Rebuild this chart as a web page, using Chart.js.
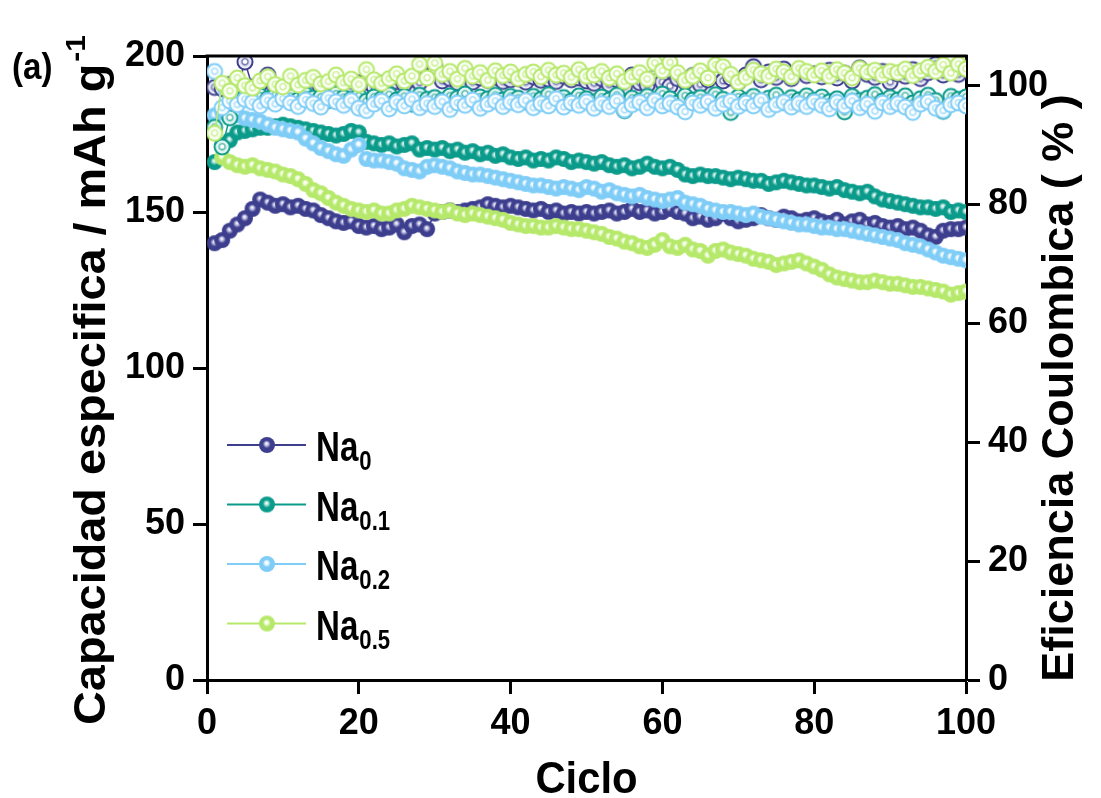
<!DOCTYPE html>
<html>
<head>
<meta charset="utf-8">
<script src="https://cdn.jsdelivr.net/npm/chart.js@4.4.1/dist/chart.umd.min.js"></script>
<style>
  html, body { margin: 0; padding: 0; background: #fff; }
  #wrap { width: 1101px; height: 798px; }
</style>
</head>
<body>
<div id="wrap"><canvas id="chart" width="1101" height="798"></canvas></div>
<script>
// cycle numbers
const cycles = [];
for (let i = 1; i <= 100; i++) cycles.push(i);

const names = ['Na0', 'Na0.1', 'Na0.2', 'Na0.5'];
const colors = ['#3d3f8e', '#0b9b8b', '#7fcdf7', '#b6e96b'];
const lights = ['#c9c9ea', '#bfe9e2', '#f2fbff', '#f4ffe6'];

const cycleTicks = [0, 20, 40, 60, 80, 100];
const capTicks = [0, 50, 100, 150, 200];
const effTicks = [0, 20, 40, 60, 80, 100];

// specific capacity, mAh g-1
const capNa0 = [
  140, 141, 144, 146, 148, 151, 154, 153, 152, 152.5,
  151.5, 152, 151, 150.5, 149, 148, 147, 146.5, 147, 145.5,
  145, 145.5, 144.5, 145, 146, 143.5, 145.5, 146, 144.5, 149.5,
  150, 150.5, 150, 150.5, 151, 151.5, 152.5, 152, 151.5, 152,
  151.5, 151, 150.5, 151, 150, 150.5, 149.5, 150, 149.5, 150,
  149.5, 150, 150.5, 149.5, 150, 151, 150, 150.5, 149.5, 150,
  151, 150, 149.5, 148, 148.5, 147.5, 148, 149.5, 148, 147,
  147.5, 148, 149, 148, 147.5, 148.5, 148, 147, 147.5, 148,
  147, 146.5, 147.5, 146, 147, 147.5, 146, 146.5, 145.5, 145,
  145.5, 144.5, 145, 144, 142.5, 142, 144, 144.5, 144.5, 145
];
const capNa01 = [
  166, 171.5, 173, 175.5, 176, 176.5, 177, 177, 177.5, 178,
  177.5, 177, 176.5, 176, 175.5, 175, 174.5, 175, 176, 175.5,
  172.5, 172, 171.5, 172, 171, 171.5, 172, 170, 170.5, 170,
  170.5, 169.5, 170, 169, 169.5, 168.5, 169, 168, 168.5, 167.5,
  167, 167.5, 166.5, 167, 166.5, 167.5, 167, 166, 166.5, 166,
  165.5, 166, 165, 164.5, 165, 164, 164.5, 165.5, 164.5, 164,
  164.5, 163.5, 162, 161.5, 162, 161.5, 161.5, 161, 160.5, 161,
  160.5, 160, 160, 159, 159.5, 160, 159.5, 159, 158.5, 158.5,
  158, 157.5, 158, 157, 156.5, 156, 156.5, 155, 154, 153.5,
  153, 152.5, 152, 151.5, 151.5, 151, 151.5, 150, 150.5, 150
];
const capNa02 = [
  181, 182, 180.5, 181, 180, 179.5, 179, 178, 177, 176.5,
  176, 175.5, 173.5, 172, 170.5, 169.5, 168.5, 168, 170, 171.5,
  167, 166.5, 166.5, 166, 165.5, 164, 163.5, 163, 164.5, 165,
  164.5, 164, 163, 162.5, 162, 162, 161.5, 161, 160.5, 160,
  159.5, 159, 158.5, 158.5, 158, 157.5, 158, 157.5, 157, 158,
  157.5, 156.5, 157, 156, 155.5, 155, 155.5, 154.5, 154, 153.5,
  154, 154.5, 153, 152.5, 152, 151, 150.5, 150, 150, 149.5,
  149, 149.5, 148.5, 148, 147.5, 147, 146.5, 146, 146, 145.5,
  145, 145, 144.5, 144.5, 144, 143.5, 143, 142.5, 142, 141.5,
  141, 140, 139.5, 139, 138, 137, 136, 135.5, 135, 134.5
];
const capNa05 = [
  176, 167.5, 166, 165, 164.5, 165, 164, 163.5, 163, 162,
  161.5, 160.5, 159, 157, 156, 154.5, 153, 152, 151, 150.5,
  150, 150.5, 149.5, 149.5, 150.5, 151, 152, 151.5, 151, 150.5,
  150, 150.5, 149.5, 149, 149.5, 149, 148.5, 148, 147.5, 146.5,
  146, 145.5, 145.5, 145, 145, 145.5, 145, 144.5, 144.5, 144,
  143.5, 143, 142, 141.5, 140.5, 140, 139, 138.5, 139.5, 141,
  139, 138.5, 139.5, 138, 137.5, 136, 137.5, 138, 137, 136.5,
  136, 135, 134.5, 134, 133, 133.5, 134, 134.5, 133.5, 132.5,
  131.5, 130, 129, 128.5, 128, 127.5, 127.5, 128, 127.5, 127,
  127, 126.5, 126, 126, 125.5, 125, 124.5, 123.5, 124, 124.5
];

// coulombic efficiency, %
const effNa0 = [
  99.7, 99.5, 100.2, 99.4, 104, 99.8, 100.3, 101.8, 99.6, 99.5,
  100.1, 99.7, 99.4, 100, 99.6, 99.8, 99.5, 100.2, 99.9, 100.5,
  100.6, 99.8, 100.4, 100, 100.7, 100.2, 101.1, 100.5, 101.5, 103.2,
  100.8, 101.2, 100.5, 101, 100.6, 101.3, 100.9, 101.4, 100.7, 101,
  101.2, 100.6, 101.5, 100.9, 101.1, 100.7, 101.6, 101, 101.3, 100.8,
  100.4, 101.2, 100.2, 101, 99.8, 101.8, 100.5, 100.1, 101.4, 100.6,
  99.9, 101.2, 100.6, 101.7, 100.2, 101, 102, 100.8, 101.3, 100.6,
  101.8, 103.2, 101, 102.3, 101.4, 102.8, 101.2, 102.5, 101.7, 102,
  101.5, 102.6, 101.3, 102.1, 100.8, 103, 101.9, 101.4, 102.4, 100.6,
  102, 101.6, 102.7, 101.2, 102.2, 103.6, 101.8, 102.5, 101.9, 102.8
];
const effNa01 = [
  93, 89.7, 94.6, 97.4, 98.0, 97.6, 98.3, 97.8, 98.4, 97.9,
  98.2, 97.6, 98.5, 97.9, 98.1, 97.5, 98.6, 98.0, 97.7, 98.3,
  97.4, 98.1, 97.8, 98.5, 97.6, 98.2, 96.9, 98.4, 97.7, 98.0,
  97.5, 98.3, 97.9, 98.6, 97.4, 98.1, 97.8, 98.4, 97.6, 98.2,
  97.9, 97.3, 98.2, 97.7, 98.5, 97.5, 98.0, 97.4, 98.3, 97.8,
  97.2, 98.1, 97.6, 98.4, 95.8, 97.9, 97.4, 98.2, 97.5, 98.6,
  97.8, 97.1, 98.3, 97.6, 98.0, 97.3, 98.5, 97.7, 95.5, 98.1,
  97.5, 98.2, 97.4, 97.9, 98.4, 97.2, 98.0, 97.6, 98.3, 97.5,
  98.1, 97.3, 97.8, 95.6, 98.2, 97.5, 97.9, 98.5, 97.4, 98.0,
  97.6, 98.3, 97.1, 97.8, 98.4, 97.5, 95.7, 98.2, 97.7, 98.1
];
const effNa02 = [
  102.4, 96.3, 97.4, 96.8, 97.7, 97.2, 96.6, 97.5, 96.9, 97.8,
  97.1, 96.5, 97.6, 97.0, 96.4, 97.9, 97.3, 96.7, 97.5, 96.2,
  95.8, 96.9, 97.4, 96.1, 97.2, 96.6, 97.7, 96.3, 97.0, 96.5,
  97.3, 96.0, 97.1, 96.7, 97.6, 96.2, 96.9, 97.4, 96.5, 97.2,
  96.8, 97.5, 96.3, 97.0, 96.6, 97.8, 96.4, 97.1, 96.7, 97.3,
  96.2, 97.0, 96.5, 97.4, 95.9, 96.8, 97.2, 96.3, 97.5, 96.6,
  97.0, 96.4, 95.6, 97.1, 96.7, 97.3, 96.2, 96.9, 97.4, 96.5,
  97.1, 96.6, 97.5, 96.0, 96.8, 97.2, 96.4, 97.0, 96.5, 97.3,
  96.7, 96.1, 97.2, 96.6, 97.4, 96.3, 96.9, 95.7, 97.1, 96.5,
  97.0, 96.4, 95.5, 96.9, 97.3, 96.2, 95.8, 96.8, 97.1, 96.6
];
const effNa05 = [
  92, 100.4, 99.1, 101.3, 100, 99.6, 100.8, 101.5, 100.2, 99.8,
  101.6, 100.1, 100.9, 101.4, 100.3, 100.7, 101.8, 100.5, 101.1, 100.2,
  102.7, 101, 100.4, 101.2, 102, 100.8, 101.6, 103.6, 101.3, 103.8,
  101.9, 102.4, 101.1, 102.9, 101.6, 102.2, 100.9, 102.5, 101.7, 102.3,
  101.2, 101.9, 102.3, 101.5, 102.6, 101.8, 102.1, 101.4, 102.7, 101.6,
  101.8, 102.4, 101.3, 102, 100.7, 101.5, 102.2, 101.1, 103.8, 102.5,
  103.9, 102.2, 100.9, 101.6, 102.5, 101.3, 103.5, 103.2, 101.9, 100.6,
  101.4, 102.6, 102, 101.6, 102.8, 102.3, 101.5, 102.9, 102.4, 101.8,
  102.5, 101.6, 102.7, 102.1, 101.3, 102.9, 102.3, 102.6, 101.8, 102.4,
  102.2, 102.8, 101.7, 102.5, 103.1, 102.4, 103.5, 102.1, 103.6, 102.8
];

const capacity = [capNa0, capNa01, capNa02, capNa05];
const efficiency = [effNa0, effNa01, effNa02, effNa05];

// shaded ball marker for capacity points
function sphere(base, light) {
  const r = 8, c = document.createElement('canvas');
  c.width = c.height = 2 * r + 2;
  const g = c.getContext('2d'), cx = r + 1, cy = r + 1;
  const grad = g.createRadialGradient(cx - 0.5, cy - 1.5, 0, cx, cy, r);
  grad.addColorStop(0, '#ffffff');
  grad.addColorStop(0.2, light);
  grad.addColorStop(0.5, base);
  grad.addColorStop(1, base);
  g.fillStyle = grad;
  g.beginPath(); g.arc(cx, cy, r, 0, Math.PI * 2); g.fill();
  return c;
}

// hollow ring marker for efficiency points
function ring(base, light) {
  const r = 7.5, c = document.createElement('canvas');
  c.width = c.height = 20;
  const g = c.getContext('2d'), cx = 10, cy = 10;
  g.fillStyle = '#ffffff';
  g.beginPath(); g.arc(cx, cy, r, 0, Math.PI * 2); g.fill();
  const grad = g.createRadialGradient(cx, cy - 0.5, 0, cx, cy, r - 1);
  grad.addColorStop(0, '#ffffff');
  grad.addColorStop(0.25, '#ffffff');
  grad.addColorStop(0.45, base);
  grad.addColorStop(0.65, light);
  grad.addColorStop(1, '#ffffff');
  g.globalAlpha = 0.75;
  g.fillStyle = grad;
  g.beginPath(); g.arc(cx, cy, r - 1, 0, Math.PI * 2); g.fill();
  g.globalAlpha = 1;
  g.strokeStyle = base; g.lineWidth = 2;
  g.beginPath(); g.arc(cx, cy, r, 0, Math.PI * 2); g.stroke();
  return c;
}

const balls = colors.map((c, i) => sphere(c, lights[i]));
const rings = colors.map((c, i) => ring(c, lights[i]));

const datasets = [];
capacity.forEach((vals, i) => {
  datasets.push({
    label: names[i],
    data: vals.map((v, k) => ({ x: cycles[k], y: v })),
    yAxisID: 'y',
    borderColor: colors[i],
    borderWidth: 1.5,
    pointStyle: balls[i],
    pointRadius: 8,
    order: 8 - i
  });
});
efficiency.forEach((vals, i) => {
  datasets.push({
    label: names[i] + ' CE',
    data: vals.map((v, k) => ({ x: cycles[k], y: v })),
    yAxisID: 'y2',
    borderColor: colors[i],
    borderWidth: 1.5,
    pointStyle: rings[i],
    pointRadius: 8,
    order: 4 - i
  });
});

const FONT = '"Liberation Sans", Arial, sans-serif';

// text squeezed or stretched along its own direction
function drawText(ctx, str, x, y, size, sx) {
  ctx.save();
  ctx.font = 'bold ' + size + 'px ' + FONT;
  ctx.translate(x, y);
  ctx.scale(sx, 1);
  ctx.fillText(str, 0, 0);
  const w = ctx.measureText(str).width * sx;
  ctx.restore();
  return w;
}

const decor = {
  id: 'decor',
  afterDraw(chart) {
    const ctx = chart.ctx, a = chart.chartArea;
    ctx.save();
    ctx.fillStyle = '#000';
    ctx.strokeStyle = '#000';
    ctx.textBaseline = 'alphabetic';
    ctx.textAlign = 'left';

    // top edge of frame
    ctx.lineWidth = 3;
    ctx.beginPath(); ctx.moveTo(a.left - 1.5, a.top); ctx.lineTo(a.right + 1.5, a.top); ctx.stroke();

    // panel tag
    drawText(ctx, '(a)', 12, 79, 36, 0.92);

    // x title
    ctx.font = 'bold 44px ' + FONT;
    const cw = ctx.measureText('Ciclo').width * 0.95;
    drawText(ctx, 'Ciclo', (a.left + a.right) / 2 - cw / 2, 793, 44, 0.95);

    // left title with superscript
    const main = 'Capacidad especifica / mAh g';
    ctx.font = 'bold 44px ' + FONT;
    const mw = ctx.measureText(main).width;
    ctx.font = 'bold 28px ' + FONT;
    const sw = ctx.measureText('-1').width;
    const sx = 690 / (mw + sw + 2);
    ctx.save();
    ctx.translate(89, 380);
    ctx.rotate(-Math.PI / 2);
    const start = -(mw + sw + 2) * sx / 2;
    drawText(ctx, main, start, 16, 44, sx);
    drawText(ctx, '-1', start + mw * sx + 2, -4, 28, sx);
    ctx.restore();

    // right title
    const rt = 'Eficiencia Coulombica ( % )';
    ctx.font = 'bold 45px ' + FONT;
    const rw = ctx.measureText(rt).width;
    ctx.save();
    ctx.translate(1057, 388);
    ctx.rotate(-Math.PI / 2);
    drawText(ctx, rt, -rw / 2, 16, 45, 1);
    ctx.restore();

    // legend
    names.forEach((n, i) => {
      const y = 445 + i * 59.5;
      ctx.strokeStyle = colors[i];
      ctx.lineWidth = 2;
      ctx.beginPath(); ctx.moveTo(227, y); ctx.lineTo(306, y); ctx.stroke();
      ctx.drawImage(balls[i], 267 - balls[i].width / 2, y - balls[i].height / 2);
      ctx.fillStyle = '#000';
      const w = drawText(ctx, 'Na', 316, y + 16, 43, 0.77);
      drawText(ctx, n.slice(2), 316 + w + 1, y + 25, 27, 0.82);
    });
    ctx.restore();
  }
};

const axisFont = { family: FONT, size: 36, weight: 'bold' };
function axisStyle(values) {
  return {
    border: { display: true, color: '#000', width: 3 },
    grid: { drawOnChartArea: false, drawTicks: true, tickLength: 14, tickWidth: 3, color: '#000' },
    ticks: { color: '#000', font: axisFont, padding: 8, maxRotation: 0 },
    afterBuildTicks(s) { s.ticks = values.map(v => ({ value: v })); }
  };
}

new Chart(document.getElementById('chart'), {
  type: 'line',
  data: { datasets },
  options: {
    responsive: false,
    animation: false,
    layout: { padding: { top: 56, left: 0, right: 0, bottom: 0 } },
    plugins: { legend: { display: false }, tooltip: { enabled: false } },
    scales: {
      x: Object.assign(axisStyle(cycleTicks), {
        type: 'linear', min: 0, max: 100,
        afterFit(s) { s.height = 118; }
      }),
      y: Object.assign(axisStyle(capTicks), {
        position: 'left', min: 0, max: 200,
        afterFit(s) { s.width = 207; }
      }),
      y2: Object.assign(axisStyle(effTicks), {
        position: 'right', min: 0, max: 105,
        afterFit(s) { s.width = 135; }
      })
    }
  },
  plugins: [decor]
});
</script>
</body>
</html>
